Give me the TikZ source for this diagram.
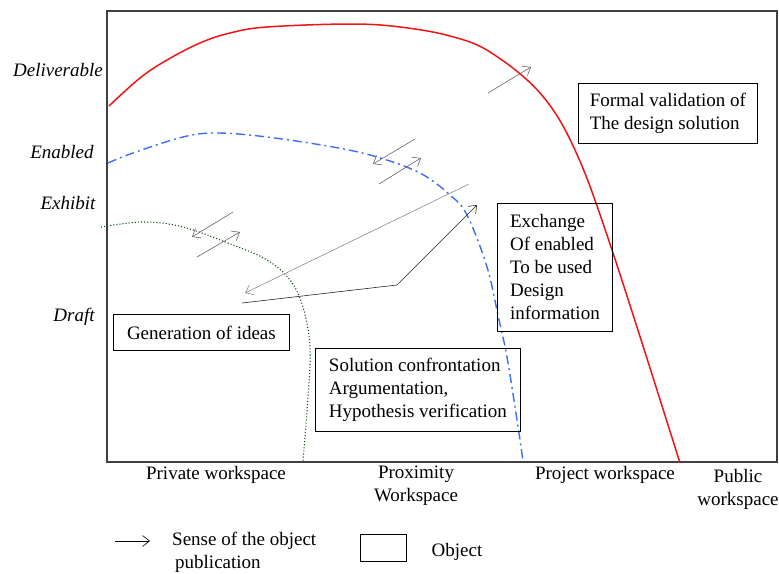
\documentclass[tikz,border=0pt]{standalone}
\usepackage{fontspec}
\setmainfont{Liberation Serif}
\usetikzlibrary{arrows.meta}

\definecolor{curvered}{RGB}{240,20,20}
\definecolor{curveblue}{RGB}{60,110,250}
\definecolor{curvegreen}{RGB}{20,80,20}
\definecolor{arrowgray}{RGB}{100,100,100}

\tikzset{
  lbl/.style={font=\fontsize{19}{23}\selectfont, inner sep=0pt},
  ylbl/.style={lbl, font=\fontsize{19}{23}\selectfont\itshape},
  objbox/.style={draw, thick, align=left, inner sep=0pt, anchor=north west,
    font=\fontsize{19}{23}\selectfont},
  pub/.style={arrowgray, line width=0.6pt, -{Straight Barb[length=7pt,width=11pt]}},
}

\begin{document}
\begin{tikzpicture}[x=1pt,y=-1pt]
\useasboundingbox (0,0) rectangle (779,573);

% frame
\draw[line width=1.2pt,black!75] (107,11) rectangle (777,462);

% curves
\draw[curvered,line width=1.5pt] plot[smooth,tension=0.6] coordinates {(109,106) (140,78) (167,60) (200,43) (230,33) (267,27) (350,24) (400,27) (450,36) (490,52) (540,93) (575,150) (612,250) (680,463)};
\draw[curveblue,line width=1.4pt,dash pattern=on 9pt off 4pt on 2pt off 4pt] plot[smooth,tension=0.6] coordinates {(108,163) (133,153) (183,137) (217,133) (267,137) (333,147) (377,157) (420,173) (450,195) (467,215) (487,267) (499,320) (507,357) (517,420) (523,461)};
\draw[curvegreen,line width=1.1pt,dotted] plot[smooth,tension=0.6] coordinates {(101,227) (143,222) (183,227) (233,245) (267,260) (290,280) (303,307) (310,347) (308,397) (303,461)};

% axis labels
\node[ylbl] (deliv) at (58,70) {Deliverable};
\node[ylbl] (enab) at (62,152) {Enabled};
\node[ylbl] (exhib) at (68,203) {Exhibit};
\node[ylbl] (draft) at (74,317) {Draft};

\node[lbl] (private) at (216,475) {Private workspace};
\node[lbl,align=center] (proximity) at (416,486) {Proximity\\Workspace};
\node[lbl] (project) at (605,475) {Project workspace};
\node[lbl,align=center] (public) at (738,489) {Public\\workspace};

% objects
\node[objbox,minimum width=179pt,minimum height=60pt] (formal) at (578,83) {Formal validation of\\The design solution};
\node[objbox,minimum width=115pt,minimum height=128pt] (exchange) at (497,203) {Exchange\\Of enabled\\To be used\\Design\\information};
\node[objbox,minimum width=176pt,minimum height=36pt] (ideas) at (113,314) {Generation of ideas};
\node[objbox,minimum width=205pt,minimum height=83pt] (confront) at (315,348) {Solution confrontation\\Argumentation,\\Hypothesis verification};

% publication arrows
\coordinate (g1s) at (233,212); \coordinate (g1e) at (192,237);
\coordinate (g2s) at (197,257); \coordinate (g2e) at (240,232);
\coordinate (b1s) at (415,139); \coordinate (b1e) at (373,164);
\coordinate (b2s) at (379,184); \coordinate (b2e) at (421,158);
\coordinate (r1s) at (488,93);  \coordinate (r1e) at (531,67);
\coordinate (ls) at (469,184);  \coordinate (le) at (245,293);
\coordinate (ps) at (242,303);  \coordinate (pm) at (397,285); \coordinate (pe) at (477,205);

\draw[pub] (g1s) -- (g1e);
\draw[pub] (g2s) -- (g2e);
\draw[pub] (b1s) -- (b1e);
\draw[pub] (b2s) -- (b2e);
\draw[pub] (r1s) -- (r1e);
\draw[pub,black!45] (ls) -- (le);
\draw[pub,black!85] (ps) -- (pm) -- (pe);

% legend
\coordinate (legs) at (115,541); \coordinate (lege) at (150,541);
\draw[pub,black] (legs) -- (lege);
\node[lbl,anchor=west,align=left] (legtxt) at (172,552) {Sense of the object\\\hspace*{3pt}publication};
\draw[thick] (360,534) rectangle (406,561);
\node[lbl] (legobj) at (457,552) {Object};
\end{tikzpicture}
\end{document}
